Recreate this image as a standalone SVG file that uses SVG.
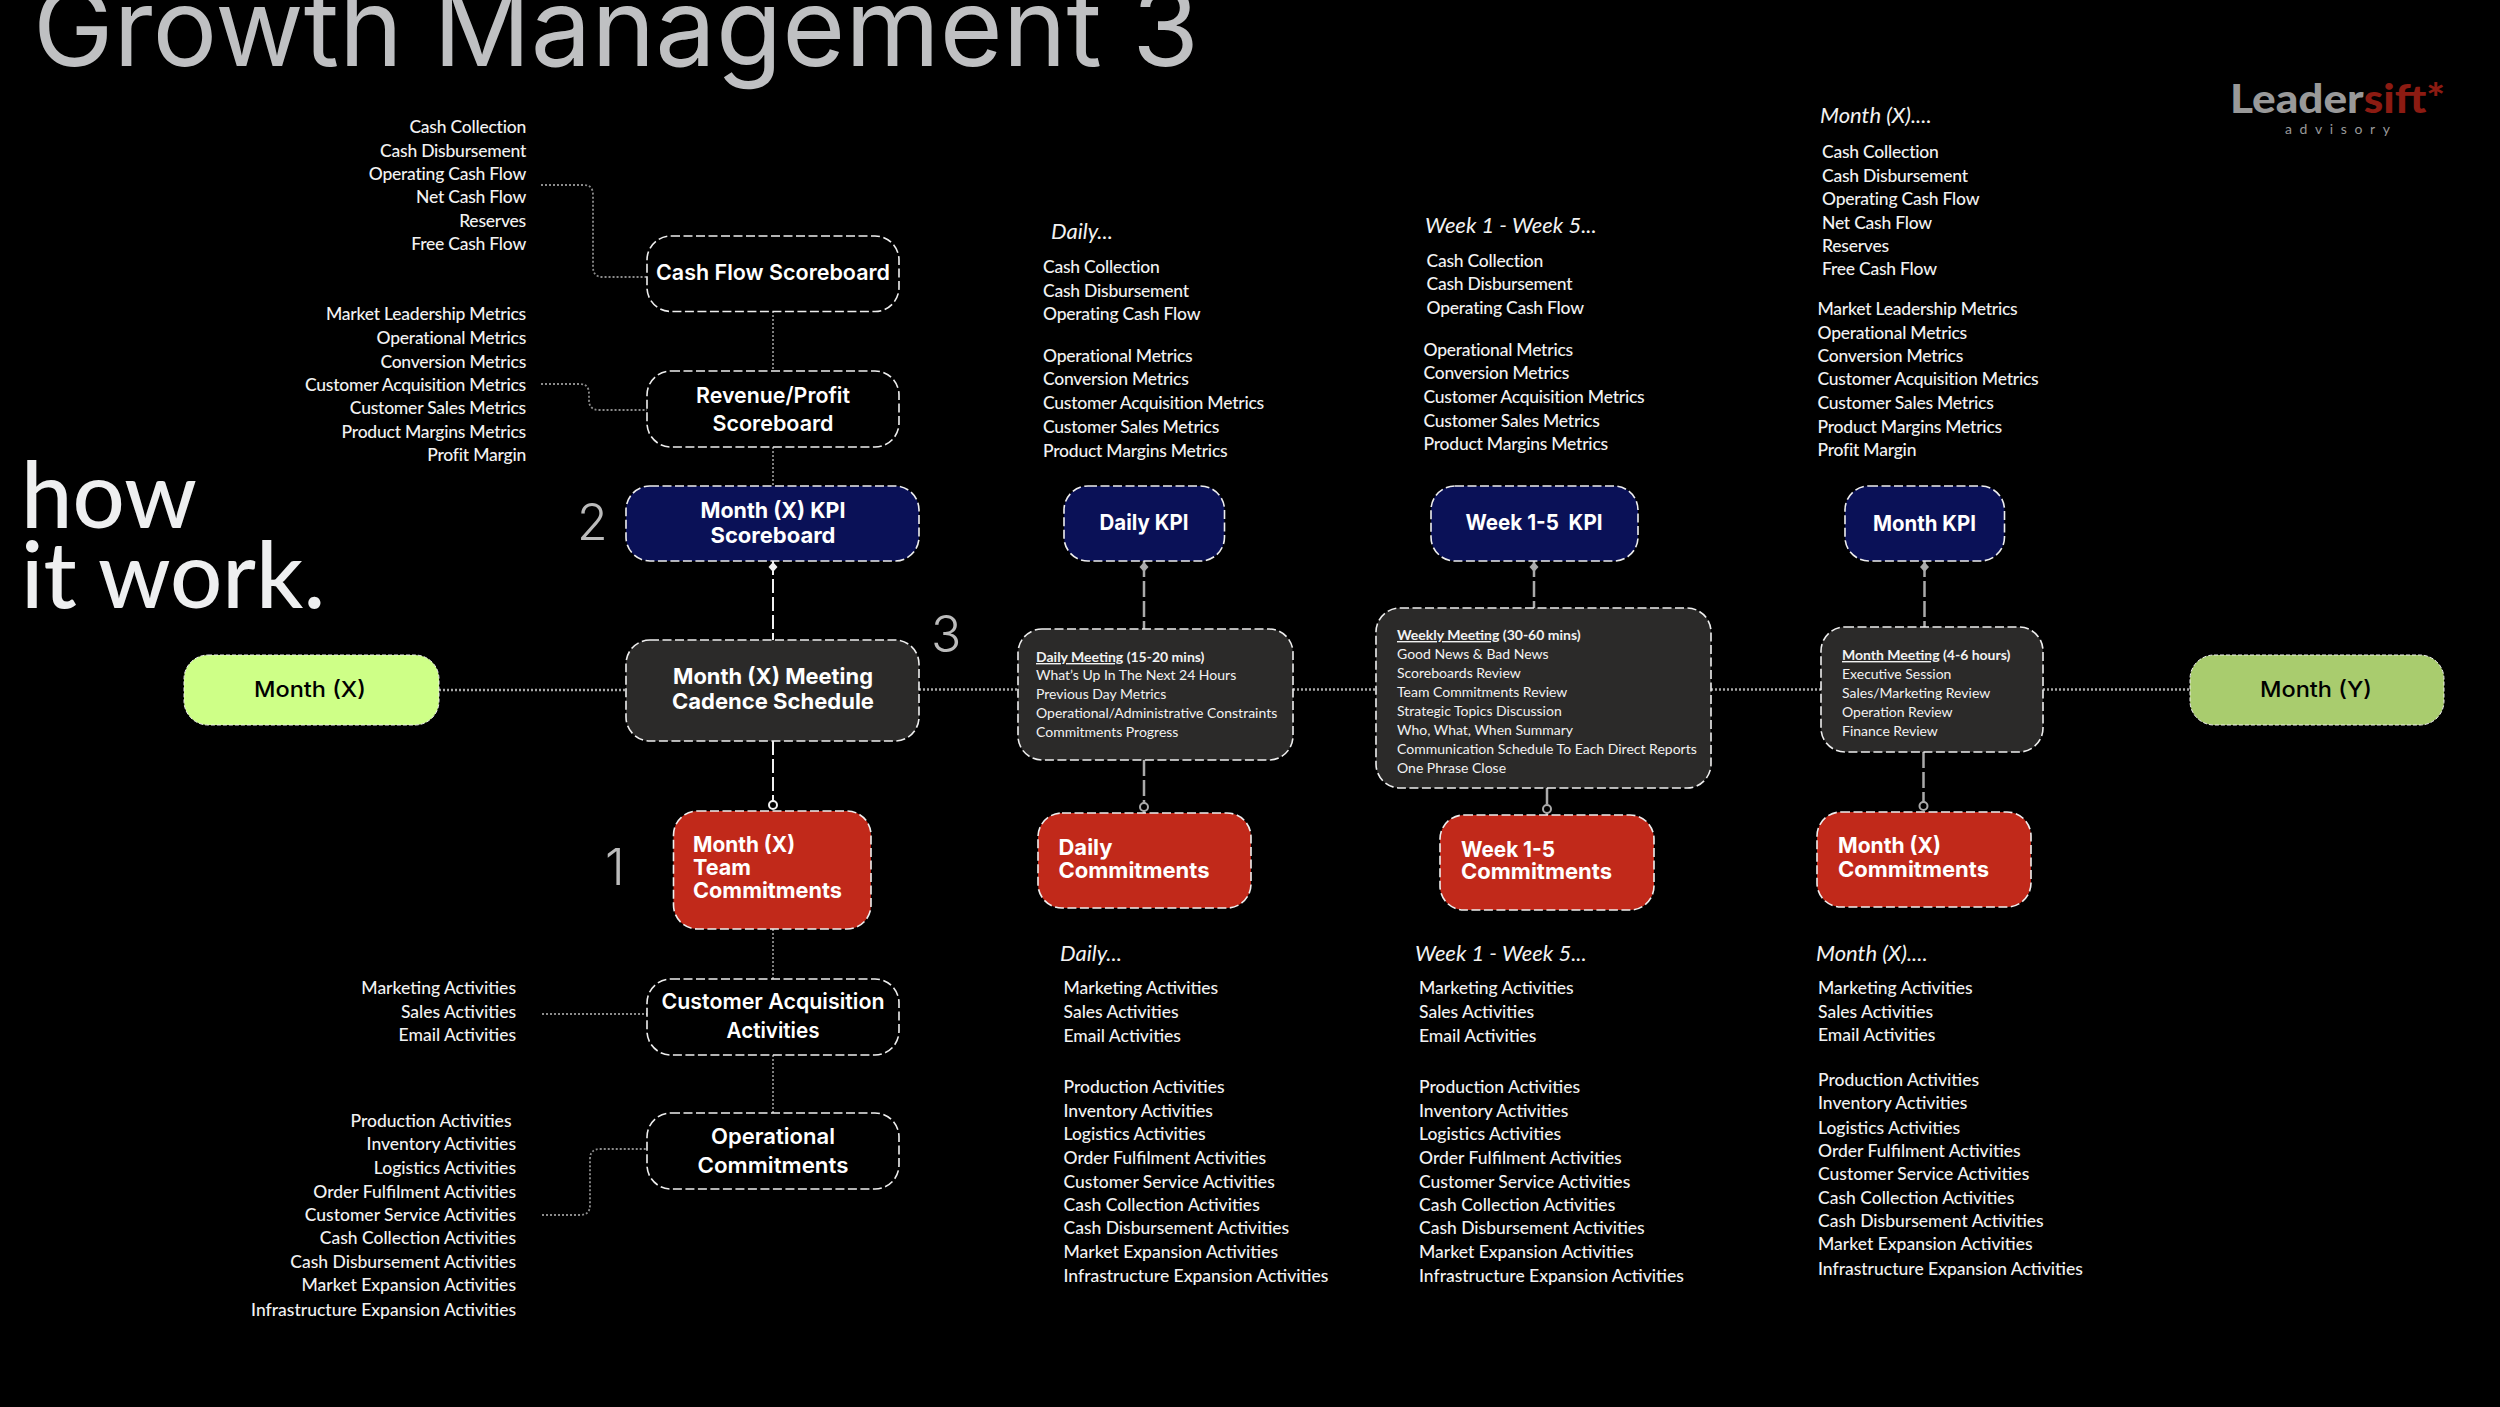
<svg xmlns="http://www.w3.org/2000/svg" width="2500" height="1407" viewBox="0 0 2500 1407">
<style>
text{font-family:"Lato","Liberation Sans",sans-serif}
.l{font-size:17.500px;letter-spacing:-0.23px;fill:#f2f2f2;font-weight:500;transform:translateY(1px)}
#list-activities-left .l,#list-daily-bottom .l,#list-week-bottom .l,#list-month-bottom .l{letter-spacing:0}
.r{text-anchor:end}
.h{font-size:22px;fill:#f2f2f2;font-style:italic;transform:translateY(1px)}
.m{font-size:14px;fill:#f2f2f2}
.mt{font-weight:700;text-decoration:underline}
.mb{font-weight:700}
.b{font-family:"Inter","Liberation Sans",sans-serif;font-size:22px;font-weight:600;fill:#fff}
.k{font-weight:700}
.c{text-anchor:middle}
.n{font-family:"Inter","Liberation Sans",sans-serif;font-size:50px;font-weight:300;fill:#bbb}
.box{stroke:#eee;stroke-width:1.6;stroke-dasharray:9 3.500}
.o{fill:#000}.nv{fill:#0a1157}.rd{fill:#c1291a}.dk{fill:#2b2a29}
.dot{fill:none;stroke:#8c8c8c;stroke-width:1.800;stroke-dasharray:2 2}
.dh{fill:none;stroke:#a6a6a6;stroke-width:2.500;stroke-dasharray:2 2}
.da{fill:none;stroke:#f0f0f0;stroke-width:2;stroke-dasharray:14 4}
.db{fill:none;stroke:#aaa;stroke-width:2.500;stroke-dasharray:16 4}
</style>
<defs>
<marker id="dw" markerUnits="userSpaceOnUse" markerWidth="14" markerHeight="14" refX="-1" refY="7" orient="auto"><path d="M0 7 L5 2.500 L10 7 L5 11.500z" fill="#f0f0f0"/></marker>
<marker id="dg" markerUnits="userSpaceOnUse" markerWidth="14" markerHeight="14" refX="-1" refY="7" orient="auto"><path d="M0 7 L5 2.500 L10 7 L5 11.500z" fill="#aaa"/></marker>
<marker id="cw" markerUnits="userSpaceOnUse" markerWidth="14" markerHeight="14" refX="12" refY="7" orient="auto"><circle cx="6" cy="7" r="4" fill="#000" stroke="#f0f0f0" stroke-width="2"/></marker>
<marker id="cg" markerUnits="userSpaceOnUse" markerWidth="14" markerHeight="14" refX="12" refY="7" orient="auto"><circle cx="6" cy="7" r="4" fill="#000" stroke="#aaa" stroke-width="2"/></marker>
</defs>
<rect width="2500" height="1407" fill="#000"/>
<g id="connectors">
<path class="dot" d="M541 185H584Q593 185 593 195V267Q593 277 603 277H647"/>
<path class="dot" d="M541 384H580Q589 384 589 394V400Q589 410 599 410H647"/>
<path class="dot" d="M773 311V371M773 447V486M773 929V979M773 1055V1113"/>
<path class="dot" d="M542 1014H647"/>
<path class="dot" d="M542 1215H580Q590 1215 590 1205V1159Q590 1149 600 1149H647"/>
<path class="dh" d="M439 690H626M919 689.500H1018M1293 689.500H1376M1711 689.500H1821M2043 689.500H2190"/>
<path class="da" d="M773 561V640" marker-start="url(#dw)"/>
<path class="da" d="M773 741V811" marker-end="url(#cw)"/>
<path class="db" d="M1144 561V629" marker-start="url(#dg)"/>
<path class="db" d="M1144 760V813" marker-end="url(#cg)"/>
<path class="db" d="M1534 561V608" marker-start="url(#dg)"/>
<path class="db" d="M1547 788V815" marker-end="url(#cg)"/>
<path class="db" d="M1924.500 561V627" marker-start="url(#dg)"/>
<path class="db" d="M1923.500 752V812" marker-end="url(#cg)"/>
</g>
<g id="title"><text x="33" y="66" font-size="108" font-weight="400" fill="#bfc0c2" style="font-family:Inter,'Liberation Sans',sans-serif" textLength="1166" lengthAdjust="spacingAndGlyphs">Growth Management 3</text></g>
<g id="how-it-work" fill="#eeeff0" font-size="92" font-weight="500"><text x="21" y="528">how</text><text x="21" y="608">it work.</text></g>
<g id="logo"><text x="2230" y="113" font-size="39" font-weight="900" fill="#999" textLength="215" lengthAdjust="spacingAndGlyphs">Leader<tspan fill="#8c1b12">sift*</tspan></text><text x="2285" y="134" font-size="14" fill="#999" textLength="105">advisory</text></g>
<g id="num-1"><text class="n" x="605" y="885">1</text></g>
<g id="num-2"><text class="n" x="577" y="540">2</text></g>
<g id="num-3"><text class="n" x="931" y="652">3</text></g>

<g id="cash-flow-scoreboard"><rect class="box o" x="647" y="236" width="252" height="75.500" rx="24"/><text class="b c" x="773" y="280" textLength="234" lengthAdjust="spacingAndGlyphs">Cash Flow Scoreboard</text></g>
<g id="revenue-profit-scoreboard"><rect class="box o" x="647" y="371" width="252" height="76" rx="24"/><text class="b c" x="773" y="403" textLength="154" lengthAdjust="spacingAndGlyphs">Revenue/Profit</text><text class="b c" x="773" y="431" textLength="121" lengthAdjust="spacingAndGlyphs">Scoreboard</text></g>
<g id="month-kpi-scoreboard"><rect class="box nv" x="626" y="486" width="293" height="75" rx="24"/><text class="b k c" x="773" y="518" textLength="145" lengthAdjust="spacingAndGlyphs">Month (X) KPI</text><text class="b k c" x="773" y="543" textLength="125" lengthAdjust="spacingAndGlyphs">Scoreboard</text></g>
<g id="month-meeting-cadence"><rect class="box dk" x="626" y="640" width="293" height="101" rx="24"/><text class="b k c" x="773" y="684" textLength="200" lengthAdjust="spacingAndGlyphs">Month (X) Meeting</text><text class="b k c" x="773" y="709" textLength="202" lengthAdjust="spacingAndGlyphs">Cadence Schedule</text></g>
<g id="month-x"><rect x="184" y="655" width="255" height="70" rx="24" fill="#ceff87" stroke="#eee" stroke-width="1" stroke-dasharray="4 2"/><text class="b c" x="310" y="697" style="fill:#000;font-weight:500" textLength="112" lengthAdjust="spacingAndGlyphs">Month (X)</text></g>
<g id="month-team-commitments"><rect class="box rd" x="673.500" y="811" width="197.500" height="118" rx="24"/><text class="b k" x="693" y="852" textLength="102" lengthAdjust="spacingAndGlyphs">Month (X)</text><text class="b k" x="693" y="875" textLength="58" lengthAdjust="spacingAndGlyphs">Team</text><text class="b k" x="693" y="898" textLength="149" lengthAdjust="spacingAndGlyphs">Commitments</text></g>
<g id="customer-acquisition-activities"><rect class="box o" x="647" y="979" width="252" height="76" rx="24"/><text class="b c" x="773" y="1009" textLength="223" lengthAdjust="spacingAndGlyphs">Customer Acquisition</text><text class="b c" x="773" y="1038" textLength="93" lengthAdjust="spacingAndGlyphs">Activities</text></g>
<g id="operational-commitments"><rect class="box o" x="647" y="1113" width="252" height="76" rx="24"/><text class="b c" x="773" y="1144" textLength="124" lengthAdjust="spacingAndGlyphs">Operational</text><text class="b c" x="773" y="1173" textLength="151" lengthAdjust="spacingAndGlyphs">Commitments</text></g>

<g id="daily-kpi"><rect class="box nv" x="1064" y="486" width="160.500" height="75" rx="24"/><text class="b k c" x="1144" y="530" textLength="89" lengthAdjust="spacingAndGlyphs">Daily KPI</text></g>
<g id="week-kpi"><rect class="box nv" x="1431" y="486" width="207" height="75" rx="24"/><text class="b k c" x="1534" y="530" textLength="137" lengthAdjust="spacingAndGlyphs" xml:space="preserve">Week 1-5  KPI</text></g>
<g id="month-kpi"><rect class="box nv" x="1845" y="486" width="159.500" height="75" rx="24"/><text class="b k c" x="1924.500" y="531" textLength="103" lengthAdjust="spacingAndGlyphs">Month KPI</text></g>

<g id="daily-meeting"><rect class="box dk" x="1018" y="629" width="275" height="131" rx="24"/>
<text class="m mb" x="1036" y="662"><tspan class="mt">Daily Meeting</tspan> (15-20 mins)</text>
<text class="m" x="1036" y="680">What’s Up In The Next 24 Hours</text>
<text class="m" x="1036" y="699">Previous Day Metrics</text>
<text class="m" x="1036" y="718">Operational/Administrative Constraints</text>
<text class="m" x="1036" y="737">Commitments Progress</text></g>
<g id="weekly-meeting"><rect class="box dk" x="1376" y="608" width="335" height="180" rx="24"/>
<text class="m mb" x="1397" y="640"><tspan class="mt">Weekly Meeting</tspan> (30-60 mins)</text>
<text class="m" x="1397" y="659">Good News &amp; Bad News</text>
<text class="m" x="1397" y="678">Scoreboards Review</text>
<text class="m" x="1397" y="697">Team Commitments Review</text>
<text class="m" x="1397" y="716">Strategic Topics Discussion</text>
<text class="m" x="1397" y="735">Who, What, When Summary</text>
<text class="m" x="1397" y="754">Communication Schedule To Each Direct Reports</text>
<text class="m" x="1397" y="773">One Phrase Close</text></g>
<g id="month-meeting"><rect class="box dk" x="1821" y="627" width="222" height="125" rx="24"/>
<text class="m mb" x="1842" y="660"><tspan class="mt">Month Meeting</tspan> (4-6 hours)</text>
<text class="m" x="1842" y="679">Executive Session</text>
<text class="m" x="1842" y="698">Sales/Marketing Review</text>
<text class="m" x="1842" y="717">Operation Review</text>
<text class="m" x="1842" y="736">Finance Review</text></g>

<g id="daily-commitments"><rect class="box rd" x="1038" y="813" width="213" height="95" rx="24"/><text class="b k" x="1058.500" y="855" textLength="54" lengthAdjust="spacingAndGlyphs">Daily</text><text class="b k" x="1058.500" y="878" textLength="151" lengthAdjust="spacingAndGlyphs">Commitments</text></g>
<g id="week-commitments"><rect class="box rd" x="1440" y="815" width="214" height="95" rx="24"/><text class="b k" x="1461" y="857" textLength="94" lengthAdjust="spacingAndGlyphs">Week 1-5</text><text class="b k" x="1461" y="879" textLength="151" lengthAdjust="spacingAndGlyphs">Commitments</text></g>
<g id="month-commitments"><rect class="box rd" x="1817" y="812" width="214" height="95" rx="24"/><text class="b k" x="1838" y="853" textLength="103" lengthAdjust="spacingAndGlyphs">Month (X)</text><text class="b k" x="1838" y="877" textLength="151" lengthAdjust="spacingAndGlyphs">Commitments</text></g>
<g id="month-y"><rect x="2190" y="655" width="254" height="70" rx="24" fill="#a9cc6e" stroke="#eee" stroke-width="1" stroke-dasharray="4 2"/><text class="b c" x="2316" y="697" style="fill:#000;font-weight:500" textLength="112" lengthAdjust="spacingAndGlyphs">Month (Y)</text></g>

<g id="list-cash-left">
<text class="l r" x="526" y="132">Cash Collection</text><text class="l r" x="526" y="156">Cash Disbursement</text><text class="l r" x="526" y="179">Operating Cash Flow</text><text class="l r" x="526" y="202">Net Cash Flow</text><text class="l r" x="526" y="226">Reserves</text><text class="l r" x="526" y="249">Free Cash Flow</text></g>
<g id="list-metrics-left">
<text class="l r" x="526" y="319">Market Leadership Metrics</text><text class="l r" x="526" y="343">Operational Metrics</text><text class="l r" x="526" y="367">Conversion Metrics</text><text class="l r" x="526" y="390">Customer Acquisition Metrics</text><text class="l r" x="526" y="413">Customer Sales Metrics</text><text class="l r" x="526" y="437">Product Margins Metrics</text><text class="l r" x="526" y="460">Profit Margin</text></g>
<g id="list-activities-left">
<text class="l r" x="516" y="993">Marketing Activities</text><text class="l r" x="516" y="1017">Sales Activities</text><text class="l r" x="516" y="1040">Email Activities</text>
<text class="l r" x="511.500" y="1126">Production Activities</text><text class="l r" x="516" y="1149">Inventory Activities</text><text class="l r" x="516" y="1173">Logistics Activities</text><text class="l r" x="516" y="1197">Order Fulfilment Activities</text><text class="l r" x="516" y="1220">Customer Service Activities</text><text class="l r" x="516" y="1243">Cash Collection Activities</text><text class="l r" x="516" y="1267">Cash Disbursement Activities</text><text class="l r" x="516" y="1290">Market Expansion Activities</text><text class="l r" x="516" y="1315">Infrastructure Expansion Activities</text></g>

<g id="list-daily-top"><text class="h" x="1051" y="238">Daily...</text>
<text class="l" x="1043" y="272">Cash Collection</text><text class="l" x="1043" y="296">Cash Disbursement</text><text class="l" x="1043" y="319">Operating Cash Flow</text>
<text class="l" x="1043" y="361">Operational Metrics</text><text class="l" x="1043" y="384">Conversion Metrics</text><text class="l" x="1043" y="408">Customer Acquisition Metrics</text><text class="l" x="1043" y="432">Customer Sales Metrics</text><text class="l" x="1043" y="456">Product Margins Metrics</text></g>
<g id="list-week-top"><text class="h" x="1425" y="232">Week 1 - Week 5...</text>
<text class="l" x="1426.500" y="266">Cash Collection</text><text class="l" x="1426.500" y="289">Cash Disbursement</text><text class="l" x="1426.500" y="313">Operating Cash Flow</text>
<text class="l" x="1423.500" y="355">Operational Metrics</text><text class="l" x="1423.500" y="378">Conversion Metrics</text><text class="l" x="1423.500" y="402">Customer Acquisition Metrics</text><text class="l" x="1423.500" y="426">Customer Sales Metrics</text><text class="l" x="1423.500" y="449">Product Margins Metrics</text></g>
<g id="list-month-top"><text class="h" x="1820" y="122">Month (X)....</text>
<text class="l" x="1822" y="157">Cash Collection</text><text class="l" x="1822" y="181">Cash Disbursement</text><text class="l" x="1822" y="204">Operating Cash Flow</text><text class="l" x="1822" y="228">Net Cash Flow</text><text class="l" x="1822" y="251">Reserves</text><text class="l" x="1822" y="274">Free Cash Flow</text>
<text class="l" x="1817.500" y="314">Market Leadership Metrics</text><text class="l" x="1817.500" y="338">Operational Metrics</text><text class="l" x="1817.500" y="361">Conversion Metrics</text><text class="l" x="1817.500" y="384">Customer Acquisition Metrics</text><text class="l" x="1817.500" y="408">Customer Sales Metrics</text><text class="l" x="1817.500" y="432">Product Margins Metrics</text><text class="l" x="1817.500" y="455">Profit Margin</text></g>

<g id="list-daily-bottom"><text class="h" x="1060" y="960">Daily...</text>
<text class="l" x="1063.500" y="993">Marketing Activities</text><text class="l" x="1063.500" y="1017">Sales Activities</text><text class="l" x="1063.500" y="1041">Email Activities</text>
<text class="l" x="1063.500" y="1092">Production Activities</text><text class="l" x="1063.500" y="1116">Inventory Activities</text><text class="l" x="1063.500" y="1139">Logistics Activities</text><text class="l" x="1063.500" y="1163">Order Fulfilment Activities</text><text class="l" x="1063.500" y="1187">Customer Service Activities</text><text class="l" x="1063.500" y="1210">Cash Collection Activities</text><text class="l" x="1063.500" y="1233">Cash Disbursement Activities</text><text class="l" x="1063.500" y="1257">Market Expansion Activities</text><text class="l" x="1063.500" y="1281">Infrastructure Expansion Activities</text></g>
<g id="list-week-bottom"><text class="h" x="1415" y="960">Week 1 - Week 5...</text>
<text class="l" x="1419" y="993">Marketing Activities</text><text class="l" x="1419" y="1017">Sales Activities</text><text class="l" x="1419" y="1041">Email Activities</text>
<text class="l" x="1419" y="1092">Production Activities</text><text class="l" x="1419" y="1116">Inventory Activities</text><text class="l" x="1419" y="1139">Logistics Activities</text><text class="l" x="1419" y="1163">Order Fulfilment Activities</text><text class="l" x="1419" y="1187">Customer Service Activities</text><text class="l" x="1419" y="1210">Cash Collection Activities</text><text class="l" x="1419" y="1233">Cash Disbursement Activities</text><text class="l" x="1419" y="1257">Market Expansion Activities</text><text class="l" x="1419" y="1281">Infrastructure Expansion Activities</text></g>
<g id="list-month-bottom"><text class="h" x="1816" y="960">Month (X)....</text>
<text class="l" x="1818" y="993">Marketing Activities</text><text class="l" x="1818" y="1017">Sales Activities</text><text class="l" x="1818" y="1040">Email Activities</text>
<text class="l" x="1818" y="1085">Production Activities</text><text class="l" x="1818" y="1108">Inventory Activities</text><text class="l" x="1818" y="1133">Logistics Activities</text><text class="l" x="1818" y="1156">Order Fulfilment Activities</text><text class="l" x="1818" y="1179">Customer Service Activities</text><text class="l" x="1818" y="1203">Cash Collection Activities</text><text class="l" x="1818" y="1226">Cash Disbursement Activities</text><text class="l" x="1818" y="1249">Market Expansion Activities</text><text class="l" x="1818" y="1274">Infrastructure Expansion Activities</text></g>
</svg>
